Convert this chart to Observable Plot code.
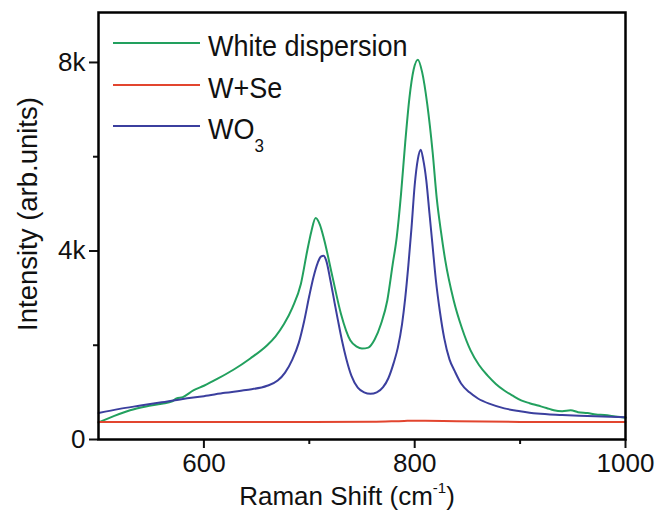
<!DOCTYPE html>
<html>
<head>
<meta charset="utf-8">
<script src="https://cdn.jsdelivr.net/npm/d3@7"></script>
<script src="https://cdn.jsdelivr.net/npm/@observablehq/plot@0.6"></script>
<style>
  html, body { margin: 0; padding: 0; background: #fff; }
  #chart { width: 656px; height: 512px; }
</style>
</head>
<body>
<div id="chart"></div>
<script>
// ---- data ----
const seriesNames = ["White dispersion", "W+Se", "WO3"];
const seriesColors = ["#22a05e", "#e2452f", "#3b3f9e"];

const whiteX = [500,515,530,545,560,570,574,580,590,600,613,628,644,660,668,676,684,692,698,702,706,710,714,722,730,739,745,750,756,762,768,774,779,783,787,791,795,799,803,807,812,817,821,825,829,837,845,853,861,869,877,885,893,901,909,917,925,932,940,948,955,964,972,980,990,1000];
const whiteY = [360,500,620,700,760,810,870,900,1040,1140,1290,1480,1720,2000,2190,2450,2800,3300,4000,4420,4700,4560,4250,3450,2670,2100,1970,1930,1950,2120,2450,2950,3700,4300,5200,6300,7250,7850,8060,7800,7100,6100,5100,4400,3800,2950,2350,1890,1580,1360,1180,1040,930,830,770,720,670,620,600,620,580,560,530,520,490,460];

const wseX = [500,600,700,760,790,800,810,840,900,1000];
const wseY = [370,370,370,375,395,400,398,385,372,370];

const wo3X = [500,520,540,560,580,600,620,640,660,670,677,684,690,695,700,704,708,711,713.5,716,720,724,727,731,735,740,746,752,758,764,770,775,780,784,788,791,794,797,800,803,805.7,808,811,814,817,820,824,828,833,838,844,852,860,872,885,900,916,940,964,1000];
const wo3Y = [560,650,720,790,860,920,990,1050,1140,1250,1420,1700,2050,2500,3050,3450,3750,3880,3900,3800,3380,2900,2550,2100,1720,1350,1100,1000,970,1000,1110,1300,1620,1950,2450,3000,3700,4500,5400,5950,6150,5950,5500,4800,4100,3400,2700,2150,1700,1450,1190,1000,870,750,660,600,550,520,500,470];

const xMajorTicks = [600, 800, 1000];
const xMinorTicks = [700, 900];
const yMajorTicks = [0, 4000, 8000];
const yMinorTicks = [2000, 6000];

const xLabelMain = "Raman Shift (cm";
const xLabelSup = "-1";
const yLabel = "Intensity (arb.units)";

// ---- build table ----
const rows = [
  ...whiteX.map((x, i) => ({series: seriesNames[0], x, y: whiteY[i]})),
  ...wseX.map((x, i) => ({series: seriesNames[1], x, y: wseY[i]})),
  ...wo3X.map((x, i) => ({series: seriesNames[2], x, y: wo3Y[i]}))
];

const fmtK = d => d === 0 ? "0" : `${d / 1000}k`;
const FONT = "'Liberation Sans', Arial, Helvetica, sans-serif";

const plot = Plot.plot({
  width: 656,
  height: 512,
  marginLeft: 98,
  marginRight: 31,
  marginTop: 12,
  marginBottom: 73,
  style: {fontFamily: FONT, background: "#fff", color: "#111"},
  x: {domain: [500, 1000]},
  y: {domain: [0, 9060]},
  color: {domain: seriesNames, range: seriesColors},
  marks: [
    Plot.line(rows, {x: "x", y: "y", z: "series", stroke: "series", strokeWidth: 2, curve: "monotone-x"}),
    Plot.axisX(xMajorTicks, {tickSize: 9, tickPadding: 5, tickFormat: d => String(d), fontSize: 26, strokeWidth: 2, label: null}),
    Plot.axisX(xMinorTicks, {tickSize: 5, tickFormat: () => "", strokeWidth: 2, label: null}),
    Plot.axisY(yMajorTicks, {tickSize: 9, tickPadding: 4, tickFormat: fmtK, fontSize: 26, strokeWidth: 2, label: null}),
    Plot.axisY(yMinorTicks, {tickSize: 5, tickFormat: () => "", strokeWidth: 2, label: null}),
    Plot.frame({stroke: "#000", strokeWidth: 2.5})
  ]
});

document.getElementById("chart").appendChild(plot);

const svg = d3.select(plot);

// ---- axis titles ----
const xt = svg.append("text")
  .attr("font-family", FONT)
  .attr("font-size", 26)
  .attr("fill", "#111")
  .attr("text-anchor", "middle")
  .attr("transform", "translate(347,505)");
xt.append("tspan").text(xLabelMain);
xt.append("tspan").attr("font-size", 15).attr("dy", -12).text(xLabelSup);
xt.append("tspan").attr("dy", 12).text(")");

svg.append("text")
  .attr("font-family", FONT)
  .attr("font-size", 27.5)
  .attr("fill", "#111")
  .attr("text-anchor", "middle")
  .attr("transform", "translate(37,214) rotate(-90)")
  .text(yLabel);

// ---- legend ----
const legendY = [43, 85, 126];
const lg = svg.append("g").attr("text-anchor", "start");
seriesNames.forEach((name, i) => {
  lg.append("line")
    .attr("x1", 113).attr("x2", 200)
    .attr("y1", legendY[i]).attr("y2", legendY[i])
    .attr("stroke", seriesColors[i]).attr("stroke-width", 2);
  const t = lg.append("text")
    .attr("font-family", FONT)
    .attr("font-size", 27)
    .attr("fill", "#111")
    .attr("text-anchor", "start")
    .attr("transform", `translate(208,${legendY[i] + 13}) scale(1,1.1)`);
  if (name === "WO3") {
    t.append("tspan").text("WO");
    t.append("tspan").attr("font-size", 17).attr("dy", 12).text("3");
  } else {
    t.text(name);
  }
});
</script>
</body>
</html>
